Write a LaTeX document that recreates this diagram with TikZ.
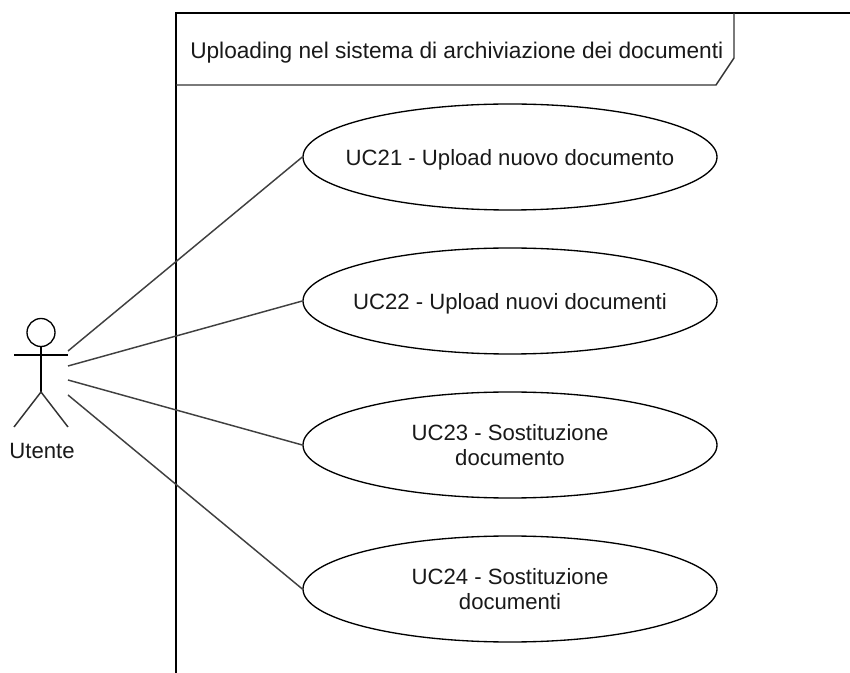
\documentclass[tikz,border=0pt]{standalone}
\usepackage{fontspec}
\setmainfont{Liberation Sans}
\usetikzlibrary{shapes.geometric}
\newdimen\uu \uu=0.75pt
\tikzset{
  uc/.style={draw=black,fill=white,ellipse,line width=1pt,minimum width=414\uu,minimum height=106\uu,inner xsep=-25pt,inner ysep=-12pt,align=center,text depth=0pt,font=\fontsize{16.6}{19.4}\selectfont,text=black!90},
  ln/.style={draw=black!75,line width=1.1pt},
  fr/.style={draw=black,line width=1pt},
  frg/.style={draw=black!80,line width=1.1pt},
  txt/.style={inner sep=0pt,font=\fontsize{16.6}{19.4}\selectfont,text=black!90}
}
\begin{document}
\begin{tikzpicture}[x=0.75pt,y=-0.75pt]
\useasboundingbox (0,0) rectangle (850,673);
\coordinate (fa) at (176,673);
\coordinate (fb) at (176,13);
\coordinate (fc) at (850,13);
\draw[fr] (fa) -- (fb) -- (fc);
\coordinate (t1) at (734,13);
\coordinate (t2) at (734,58);
\coordinate (t3) at (716,85);
\coordinate (t4) at (176,85);
\draw[frg] (t1) -- (t2) -- (t3) -- (t4);
\node[txt,anchor=base west,font=\fontsize{17}{19}\selectfont] (title) at (190,59) {Uploading nel sistema di archiviazione dei documenti};
\node[uc] (u1) at (510,157) {UC21 - Upload nuovo documento};
\node[uc] (u2) at (510,301) {UC22 - Upload nuovi documenti};
\node[uc] (u3) at (510,445) {UC23 - Sostituzione\\documento};
\node[uc] (u4) at (510,589) {UC24 - Sostituzione\\documenti};
\coordinate (c1) at (68,351);
\coordinate (c2) at (68,366);
\coordinate (c3) at (68,380);
\coordinate (c4) at (68,395);
\draw[ln] (c1) -- (u1.west);
\draw[ln] (c2) -- (u2.west);
\draw[ln] (c3) -- (u3.west);
\draw[ln] (c4) -- (u4.west);
\node[draw=black,circle,line width=1pt,minimum size=28\uu,inner sep=0pt] (head) at (41,332.5) {};
\coordinate (hip) at (41,392);
\coordinate (al) at (14,355);
\coordinate (ar) at (68,355);
\coordinate (ll) at (14,427);
\coordinate (lr) at (68,427);
\draw[fr] (head.south) -- (hip);
\draw[frg] (ll) -- (hip) -- (lr);
\draw[fr] (al) -- (ar);
\node[txt,anchor=base] (lab) at (42,459) {Utente};
\end{tikzpicture}
\end{document}
